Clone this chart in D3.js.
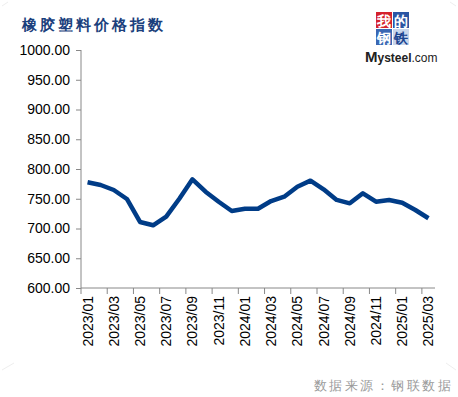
<!DOCTYPE html>
<html>
<head>
<meta charset="utf-8">
<script src="https://cdn.jsdelivr.net/npm/d3@7"></script>
<style>
  body { margin: 0; background: #fff; }
  text { font-family: "Liberation Sans", Arial, sans-serif; }
</style>
</head>
<body>
<div id="myChart"></div>
<script>
// data
let months = ["2023/01","2023/02","2023/03","2023/04","2023/05","2023/06","2023/07","2023/08","2023/09",
              "2023/10","2023/11","2023/12","2024/01","2024/02","2024/03","2024/04","2024/05","2024/06",
              "2024/07","2024/08","2024/09","2024/10","2024/11","2024/12","2025/01","2025/02","2025/03"];
let values = [777.7, 773.1, 764.7, 749.6, 711.0, 705.4, 719.9, 750.0, 782.7,
              761.9, 745.0, 729.4, 733.3, 733.3, 746.2, 753.5, 770.3, 780.4,
              765.9, 748.0, 742.3, 759.2, 745.0, 748.0, 743.4, 731.1, 717.2];
let yTicks = [600, 650, 700, 750, 800, 850, 900, 950, 1000];
let title = "橡胶塑料价格指数";
let source = "数据来源：钢联数据";

// set the dimensions and margins of the graph
let W = 458, H = 397;
let margin = {top: 50, right: 23, bottom: 109, left: 81},
    width = W - margin.left - margin.right,
    height = H - margin.top - margin.bottom;

let root = d3.select("#myChart")
    .append("svg")
        .attr("width", W)
        .attr("height", H);

// faint corner marks
root.append("path")
    .attr("d", "M2,370 L14,363 M446,363 L456,370 M2,6 L8,2 M450,2 L456,6")
    .attr("stroke", "#eee")
    .attr("fill", "none");

// title
root.append("text")
    .attr("x", 22)
    .attr("y", 30)
    .attr("font-family", "'Noto Sans CJK SC', sans-serif")
    .attr("font-size", 15)
    .attr("font-weight", "bold")
    .attr("letter-spacing", 3)
    .attr("fill", "#1b3f7c")
    .text(title);

// logo
let logo = root.append("g").attr("transform", "translate(376,12)");
let cells = [
    {t: "我", x: 0, y: 0, bg: "#d4222c", fg: "#fff"},
    {t: "的", x: 17, y: 0, bg: "#2b55a3", fg: "#fff"},
    {t: "钢", x: 0, y: 17, bg: "#3a67b3", fg: "#fff"},
    {t: "铁", x: 17, y: 17, bg: "#c9d6ec", fg: "#1d4591"}
];
cells.forEach(function(c) {
    logo.append("rect").attr("x", c.x).attr("y", c.y).attr("width", 16).attr("height", 16).attr("fill", c.bg);
    logo.append("text").attr("x", c.x + 8).attr("y", c.y + 13.5)
        .attr("text-anchor", "middle")
        .attr("font-family", "'Noto Sans CJK SC', sans-serif")
        .attr("font-weight", "bold")
        .attr("font-size", 14)
        .attr("fill", c.fg)
        .text(c.t);
});
root.append("text")
    .attr("x", 365).attr("y", 62)
    .attr("font-size", 12)
    .attr("fill", "#222")
    .html('<tspan font-size="15" font-weight="bold">M</tspan><tspan font-weight="bold">ysteel</tspan>.com');

// source
root.append("text")
    .attr("x", 453)
    .attr("y", 390)
    .attr("text-anchor", "end")
    .attr("font-family", "'Noto Sans CJK SC', sans-serif")
    .attr("font-size", 13)
    .attr("letter-spacing", 2.5)
    .attr("fill", "#9a9a9a")
    .text(source);

let svg = root.append("g")
    .attr("transform", "translate(" + margin.left + "," + margin.top + ")");

// X scale (band, ticks at band edges, labels at band centres)
let x = d3.scaleBand()
    .domain(months)
    .range([0, width]);

// Y scale
let y = d3.scaleLinear()
    .domain([600, 1000])
    .range([height, 0]);

// Y axis
let yAxis = svg.append("g")
    .call(d3.axisLeft(y).tickValues(yTicks).tickSize(5).tickPadding(6).tickFormat(d3.format(".2f")));
yAxis.selectAll("text").attr("font-size", 14).attr("fill", "#000").attr("font-family", "'Liberation Sans', Arial, sans-serif");
yAxis.selectAll("line").attr("stroke", "#888");
yAxis.select(".domain").attr("stroke", "#888").attr("d", "M0," + height + "V0");

// X axis line
let xAxis = svg.append("g")
    .attr("transform", "translate(0," + height + ")");
xAxis.append("line")
    .attr("x1", 0).attr("x2", width)
    .attr("stroke", "#888");
let labelled = months.filter(function(d, i) { return i % 2 === 0; });
xAxis.selectAll(".tick")
    .data(labelled)
    .enter()
    .append("line")
        .attr("x1", function(d) { return x(d); })
        .attr("x2", function(d) { return x(d); })
        .attr("y1", 0)
        .attr("y2", 6)
        .attr("stroke", "#888");
xAxis.selectAll(".lbl")
    .data(labelled)
    .enter()
    .append("text")
        .attr("transform", function(d) { return "translate(" + (x(d) + x.bandwidth() / 2 + 5) + ",8) rotate(-90)"; })
        .attr("text-anchor", "end")
        .attr("font-size", 14)
        .attr("fill", "#000")
        .text(function(d) { return d; });

// line
let line = d3.line()
    .x(function(d, i) { return x(months[i]) + x.bandwidth() / 2; })
    .y(function(d) { return y(d); });

svg.append("path")
    .datum(values)
    .attr("fill", "none")
    .attr("stroke", "#003c87")
    .attr("stroke-width", 4.5)
    .attr("stroke-linejoin", "round")
    .attr("d", line);
</script>
</body>
</html>
